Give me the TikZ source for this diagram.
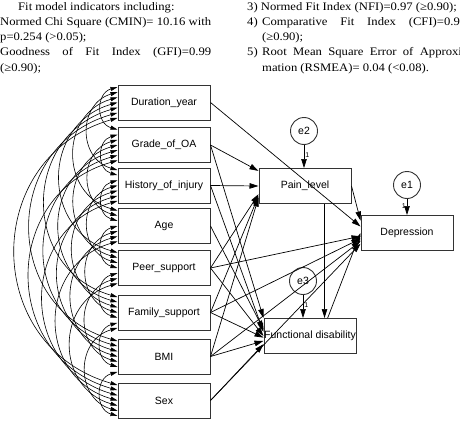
\documentclass[tikz,border=0pt]{standalone}
\usepackage{fontspec}
\setmainfont{Liberation Serif}[FakeStretch=1.1]
\setsansfont{Liberation Sans}
\usetikzlibrary{arrows.meta,calc}

\begin{document}
\begin{tikzpicture}[x=1pt,y=1pt,
    var/.style={draw=black!80,line width=1pt,minimum width=92pt,minimum height=35pt,inner sep=0pt,
      font=\sffamily\fontsize{10.5}{12}\selectfont},
    err/.style={draw=black!80,circle,line width=0.9pt,minimum size=27pt,inner sep=0pt,
      font=\sffamily\fontsize{10.5}{12}\selectfont},
    path/.style={line width=0.7pt,-{Triangle[length=9pt,width=5.5pt]}},
    cov/.style={line width=0.6pt,{Triangle[length=7pt,width=4pt]}-{Triangle[length=7pt,width=4pt]}},
    fit/.style={anchor=base west,inner sep=0pt,font=\fontsize{11.5}{13}\selectfont},
    one/.style={inner sep=1pt,font=\sffamily\fontsize{7}{8}\selectfont}]
    \useasboundingbox (0,0) rectangle (460,-420);
    \clip (0,0) rectangle (460,-420);
    % fit indices
    \node[fit] (t1) at (18,-11) {Fit model indicators including:};
    \node[fit] (t2) at (0,-26) {\makebox[211pt][s]{Normed Chi Square (CMIN)= 10.16 with}};
    \node[fit] (t3) at (0,-41) {p=0.254 (>0.05);};
    \node[fit] (t4) at (0,-56) {\makebox[211pt][s]{Goodness of Fit Index (GFI)=0.99}};
    \node[fit] (t5) at (0,-71) {(≥0.90);};
    \node[fit] (t6) at (247,-11) {3) Normed Fit Index (NFI)=0.97 (≥0.90);};
    \node[fit] (t7) at (247,-26) {4)};
    \node[fit] (t8) at (262,-26) {\makebox[204pt][s]{Comparative Fit Index (CFI)=0.99}};
    \node[fit] (t9) at (262,-41) {(≥0.90);};
    \node[fit] (t10) at (247,-56) {5)};
    \node[fit] (t11) at (262,-56) {\makebox[204pt][s]{Root Mean Square Error of Approxi-}};
    \node[fit] (t12) at (262,-71) {mation (RSMEA)= 0.04 (<0.08).};
    % observed variables
    \node[var] (v1) at (164,-102.5) {Duration\_year};
    \node[var] (v2) at (164,-145) {Grade\_of\_OA};
    \node[var] (v3) at (164,-185.5) {History\_of\_injury};
    \node[var] (v4) at (164,-226) {Age};
    \node[var] (v5) at (164,-268) {Peer\_support};
    \node[var] (v6) at (164,-312.5) {Family\_support};
    \node[var] (v7) at (164,-356.5) {BMI};
    \node[var] (v8) at (164,-400.5) {Sex};
    \node[var] (pain) at (305,-186) {Pain\_level};
    \node[var] (dep) at (407,-233) {Depression};
    \node[var] (fd) at (310,-336) {Functional disability};
    \node[err] (e2) at (304,-131) {e2};
    \node[err] (e1) at (407,-185) {e1};
    \node[err] (e3) at (303,-281) {e3};
    % covariances
    \foreach \i in {1,...,7}{
      \pgfmathtruncatemacro\nxt{\i+1}
      \foreach \j in {\nxt,...,8}{
        \pgfmathsetmacro\pa{(\j-1.5)/7}
        \pgfmathsetmacro\pb{(\i-0.5)/7}
        \draw[cov] ($(v\i.north west)!\pa!(v\i.south west)$)
          to[out=196,in=164,looseness=1.36] ($(v\j.north west)!\pb!(v\j.south west)$);
      }
    }
    % error terms
    \draw[path] (e2) -- (e2 |- pain.north) node[one,pos=0.45,right] {1};
    \draw[path] (e1) -- (e1 |- dep.north) node[one,pos=0.45,left] {1};
    \draw[path] (e3) -- (e3 |- fd.north) node[one,pos=0.45,right] {1};
    % direct effects
    \draw[path] (v1.east) -- (dep.172);
    \draw[path] (v2.east) -- (pain.162);
    \draw[path] (v2.east) -- (fd.north west);
    \draw[path] (v3.east) -- (pain.west);
    \draw[path] (v3.east) -- (fd.175);
    \draw[path] (v4.east) -- (fd.172);
    \draw[path] (v5.east) -- (pain.190);
    \draw[path] (v5.east) -- (dep.184);
    \draw[path] (v5.east) -- (fd.180);
    \draw[path] (v6.east) -- (pain.192);
    \draw[path] (v6.east) -- (dep.187);
    \draw[path] (v6.east) -- (fd.182);
    \draw[path] (v7.east) -- (pain.194);
    \draw[path] (v7.east) -- (dep.190);
    \draw[path] (v7.east) -- (fd.186);
    \draw[path] (v8.east) -- (dep.193);
    \draw[path] (v8.east) -- (fd.190);
    \draw[path] ($(pain.south west)!0.71!(pain.south east)$) coordinate (pd) -- (pd |- fd.north);
    \draw[path] (pain.east) -- (dep.165);
    \draw[path] ($(fd.north west)!0.69!(fd.north east)$) -- (dep.west);
\end{tikzpicture}
\end{document}
